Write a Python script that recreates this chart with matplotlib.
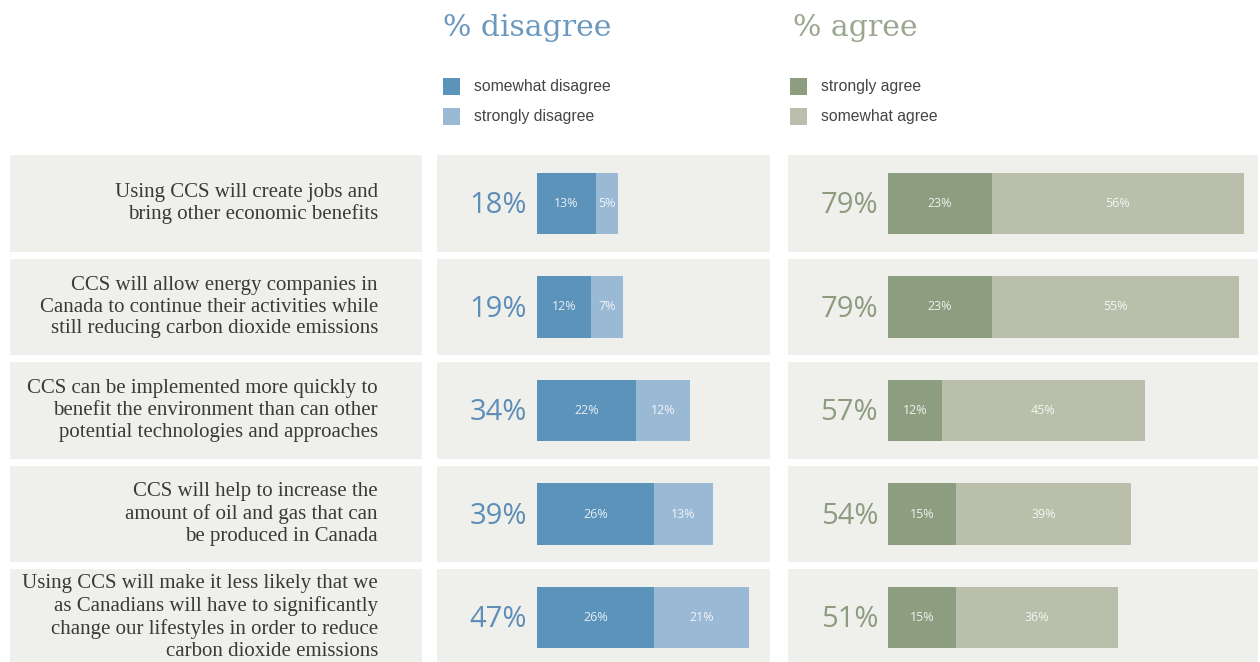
import numpy as np
import matplotlib
matplotlib.use("Agg")
import matplotlib.pyplot as plt
from matplotlib.patches import Rectangle

statements = [
    "Using CCS will create jobs and\nbring other economic benefits",
    "CCS will allow energy companies in\nCanada to continue their activities while\nstill reducing carbon dioxide emissions",
    "CCS can be implemented more quickly to\nbenefit the environment than can other\npotential technologies and approaches",
    "CCS will help to increase the\namount of oil and gas that can\nbe produced in Canada",
    "Using CCS will make it less likely that we\nas Canadians will have to significantly\nchange our lifestyles in order to reduce\ncarbon dioxide emissions",
]
somewhat_disagree = [13, 12, 22, 26, 26]
strongly_disagree = [5, 7, 12, 13, 21]
total_disagree = [18, 19, 34, 39, 47]
strongly_agree = [23, 23, 12, 15, 15]
somewhat_agree = [56, 55, 45, 39, 36]
total_agree = [79, 79, 57, 54, 51]

c_sd = "#5b93bb"   # somewhat disagree
c_std = "#9ab9d5"  # strongly disagree
c_sta = "#8c9e7f"  # strongly agree
c_sa = "#b9bfab"   # somewhat agree
c_panel = "#efefeb"
c_blue_txt = "#5e8eb8"
c_green_txt = "#8d9c80"

W, H = 1260, 662
fig = plt.figure(figsize=(W / 100, H / 100), dpi=100)
fig.patch.set_facecolor("white")

PX_PER_PCT = 4.5
ROW0, ROW_STEP = 203.5, 103.5
TOP, BOT = 150, 662
ylim = ((BOT - ROW0) / ROW_STEP, (TOP - ROW0) / ROW_STEP)
y = np.arange(len(statements))


def make_ax(x0, x1, zero_px=None):
    ax = fig.add_axes([x0 / W, 1 - BOT / H, (x1 - x0) / W, (BOT - TOP) / H])
    if zero_px is None:
        ax.set_xlim(0, 1)
    else:
        ax.set_xlim(-(zero_px - x0) / PX_PER_PCT, (x1 - zero_px) / PX_PER_PCT)
    ax.set_ylim(*ylim)
    ax.axis("off")
    xmin, xmax = ax.get_xlim()
    for i in y:
        ax.add_patch(Rectangle((xmin, i - 0.465), xmax - xmin, 0.93,
                               facecolor=c_panel, edgecolor="none", zorder=0))
    return ax


# statements panel
ax_lab = make_ax(10, 422)
for i, s in zip(y, statements):
    ax_lab.text(0.893, i, s, ha="right", va="center", multialignment="right",
                family="Liberation Serif", fontsize=15, color="#3a3a3a",
                linespacing=1.2)

bar_h = 0.59
num_font = "Open Sans"


def seg_labels(ax, left, vals):
    for i, (l, v) in enumerate(zip(left, vals)):
        ax.text(l + v / 2, i, f"{v}%", ha="center", va="center",
                family=num_font, fontsize=9, color="white", alpha=0.85)


# disagree panel
ax_d = make_ax(437, 770, zero_px=537)
ax_d.barh(y, somewhat_disagree, height=bar_h, color=c_sd, zorder=2)
ax_d.barh(y, strongly_disagree, left=somewhat_disagree, height=bar_h, color=c_std, zorder=2)
seg_labels(ax_d, [0] * 5, somewhat_disagree)
seg_labels(ax_d, somewhat_disagree, strongly_disagree)
for i, t in zip(y, total_disagree):
    ax_d.text(-2.2, i + 0.02, f"{t}%", ha="right", va="center", family=num_font,
              fontsize=21, color=c_blue_txt)

# agree panel
ax_a = make_ax(788, 1258, zero_px=888)
ax_a.barh(y, strongly_agree, height=bar_h, color=c_sta, zorder=2)
ax_a.barh(y, somewhat_agree, left=strongly_agree, height=bar_h, color=c_sa, zorder=2)
seg_labels(ax_a, [0] * 5, strongly_agree)
seg_labels(ax_a, strongly_agree, somewhat_agree)
for i, t in zip(y, total_agree):
    ax_a.text(-2.2, i + 0.02, f"{t}%", ha="right", va="center", family=num_font,
              fontsize=21, color=c_green_txt)

# headers and legends
fig.text(443 / W, 1 - 28 / H, "% disagree", ha="left", va="center",
         family="DejaVu Serif", fontsize=21.5, color="#6a98bf")
fig.text(793 / W, 1 - 28 / H, "% agree", ha="left", va="center",
         family="DejaVu Serif", fontsize=21.5, color="#9aa68e")

legend_items = [
    (443, 86, c_sd, "somewhat disagree"),
    (443, 116, c_std, "strongly disagree"),
    (790, 86, c_sta, "strongly agree"),
    (790, 116, c_sa, "somewhat agree"),
]
for lx, ly, col, lab in legend_items:
    fig.patches.append(Rectangle((lx / W, 1 - (ly + 8.5) / H), 17 / W, 17 / H,
                                 transform=fig.transFigure, facecolor=col,
                                 edgecolor="none"))
    fig.text((lx + 31) / W, 1 - ly / H, lab, ha="left", va="center",
             family="Liberation Sans", fontsize=11.3, color="#444444")

fig.savefig("out.png", dpi=100, facecolor="white")
